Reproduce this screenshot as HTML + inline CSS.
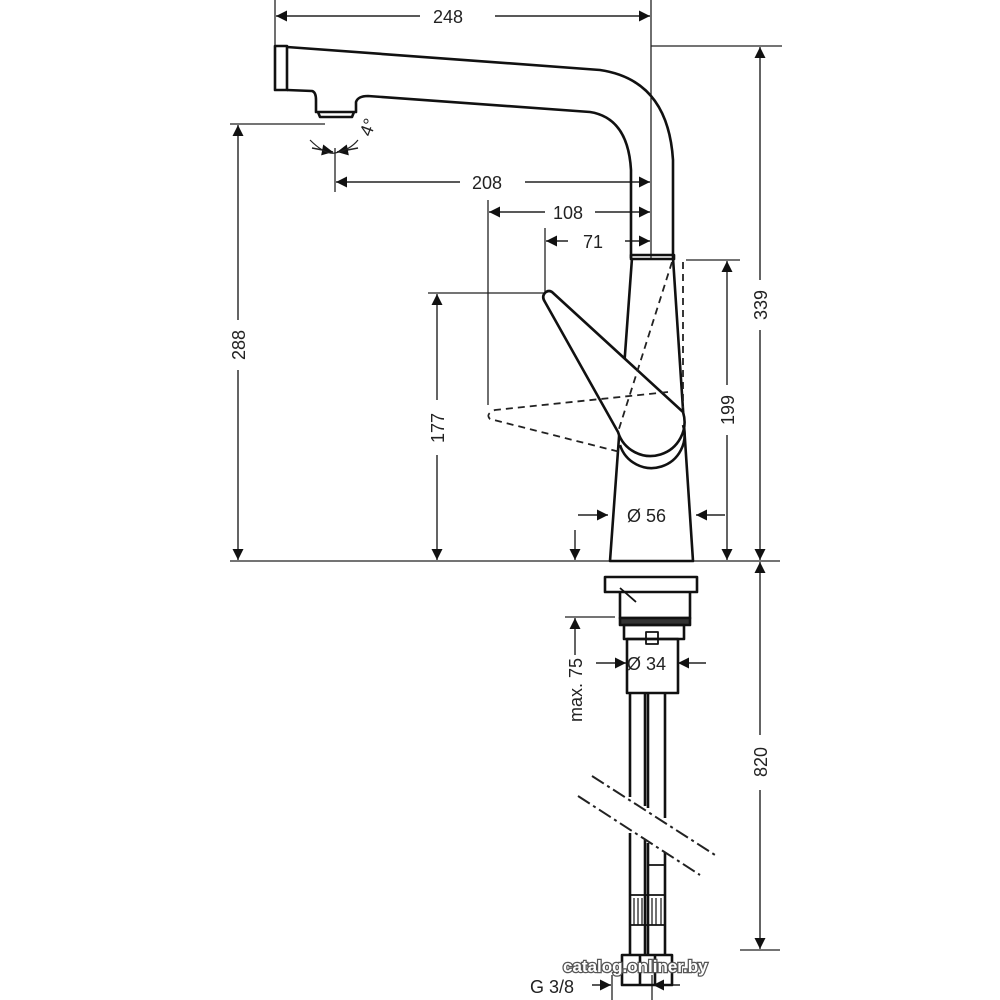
<!DOCTYPE html>
<html><head><meta charset="utf-8"><style>html,body{margin:0;background:#fff}svg{display:block}text{font-family:"Liberation Sans",sans-serif;font-size:18px;fill:#222}</style></head><body>
<svg width="1000" height="1000" viewBox="0 0 1000 1000" xmlns="http://www.w3.org/2000/svg">
<defs>
<marker id="a" viewBox="0 0 10 10" refX="10" refY="5" markerWidth="13" markerHeight="11" markerUnits="userSpaceOnUse" orient="auto-start-reverse"><path d="M0,0L10,5L0,10z" fill="#111"/></marker>
</defs>
<g stroke="#222" stroke-width="1.3" fill="none">
<line x1="275" y1="0" x2="275" y2="45"/>
<line x1="651" y1="0" x2="651" y2="258"/>
<line x1="651" y1="46" x2="782" y2="46"/>
<line x1="230" y1="124" x2="325" y2="124"/>
<line x1="335" y1="148" x2="335" y2="192"/>
<line x1="488" y1="200" x2="488" y2="405"/>
<line x1="545" y1="228" x2="545" y2="292"/>
<line x1="428" y1="293" x2="545" y2="293"/>
<line x1="686" y1="260" x2="740" y2="260"/>
<line x1="230" y1="561" x2="780" y2="561"/>
<line x1="565" y1="617" x2="615" y2="617"/>
<line x1="740" y1="950" x2="780" y2="950"/>
<line x1="612" y1="975" x2="612" y2="1000"/>
<line x1="652" y1="975" x2="652" y2="1000"/>
</g>
<g stroke="#222" stroke-width="1.4" fill="none" marker-start="url(#a)" marker-end="url(#a)">
<line x1="276" y1="16" x2="420" y2="16" marker-end="none"/>
<line x1="495" y1="16" x2="650" y2="16" marker-start="none"/>
<line x1="760" y1="47" x2="760" y2="280" marker-end="none"/>
<line x1="760" y1="330" x2="760" y2="560" marker-start="none"/>
<line x1="238" y1="125" x2="238" y2="320" marker-end="none"/>
<line x1="238" y1="370" x2="238" y2="560" marker-start="none"/>
<line x1="336" y1="182" x2="460" y2="182" marker-end="none"/>
<line x1="525" y1="182" x2="650" y2="182" marker-start="none"/>
<line x1="489" y1="212" x2="545" y2="212" marker-end="none"/>
<line x1="595" y1="212" x2="650" y2="212" marker-start="none"/>
<line x1="546" y1="241" x2="568" y2="241" marker-end="none"/>
<line x1="625" y1="241" x2="650" y2="241" marker-start="none"/>
<line x1="437" y1="294" x2="437" y2="400" marker-end="none"/>
<line x1="437" y1="455" x2="437" y2="560" marker-start="none"/>
<line x1="727" y1="261" x2="727" y2="385" marker-end="none"/>
<line x1="727" y1="435" x2="727" y2="560" marker-start="none"/>
<line x1="760" y1="562" x2="760" y2="735" marker-end="none"/>
<line x1="760" y1="790" x2="760" y2="949" marker-start="none"/>
</g>
<g stroke="#222" stroke-width="1.4" fill="none" marker-end="url(#a)">
<line x1="578" y1="515" x2="608" y2="515"/>
<line x1="725" y1="515" x2="696" y2="515"/>
<line x1="575" y1="530" x2="575" y2="560"/>
<line x1="575" y1="655" x2="575" y2="618"/>
<line x1="596" y1="663" x2="626" y2="663"/>
<line x1="706" y1="663" x2="678" y2="663"/>
<line x1="592" y1="985" x2="611" y2="985"/>
<line x1="680" y1="985" x2="653" y2="985"/>
<line x1="312" y1="148" x2="333" y2="152"/>
<line x1="358" y1="148" x2="337" y2="152"/>
</g>
<path d="M310,140 Q325,155 335,153 Q350,150 358,140" stroke="#222" stroke-width="1.2" fill="none"/>
<g stroke="#111" stroke-width="2.6" fill="none" stroke-linejoin="round">
<rect x="275" y="46" width="12" height="44"/>
<path d="M287,47 L600,70 Q668,80 673,160 L673,258"/>
<path d="M287,90 L312,91 Q316,92 316,100 L316,112 L356,112 L356,102 Q358,96 368,96 L590,112 Q628,118 631,170 L631,258"/>
<path d="M318,112 L320,117 L352,117 L354,112"/>
<rect x="631" y="255" width="43" height="4"/>
<path d="M632,258 L610,561 L693,561 L673,258"/>
<path d="M546,292 Q541,296 545,302 L618,432 A33,33 0 1 0 683,412 L552,292 Q549,290 546,292 Z" fill="#fff"/>
<path d="M620,445 A33,33 0 0 0 683,425"/>
<path d="M605,577 H697 V592 H605 Z M620,592 V618 H690 V592"/>
<line x1="620" y1="588" x2="636" y2="602" stroke-width="1.8"/>
<path d="M620,618 H690 V625 H620 Z" fill="#333"/>
<rect x="624" y="625" width="60" height="14"/>
<rect x="627" y="639" width="51" height="54"/>
<rect x="646" y="632" width="12" height="12" stroke-width="1.8"/>
<path d="M630,693 V797 M645,693 V806 M648,693 V808 M665,693 V818"/>
<path d="M630,833 V955 M645,840 V955 M648,843 V955 M665,852 V955"/>
<path d="M648,865 H665" stroke-width="1.8"/>
<path d="M630,895 H665 M630,925 H665" stroke-width="1.8"/>
<g stroke-width="1.2"><path d="M634,898V925M638,898V925M642,898V925M652,898V925M656,898V925M661,898V925"/></g>
<rect x="622" y="955" width="50" height="30"/>
<path d="M640,955V985M655,955V985"/>
</g>
<g stroke="#222" stroke-width="1.8" fill="none" stroke-dasharray="7,5">
<path d="M672,262 L618,432"/>
<path d="M683,262 V408"/>
<path d="M668,392 L495,410 Q485,414 490,419 L620,452"/>
</g>
<g stroke="#222" stroke-width="2" fill="none" stroke-dasharray="14,4,3,4">
<line x1="592" y1="776" x2="715" y2="855"/>
<line x1="578" y1="796" x2="700" y2="875"/>
</g>
<text x="433" y="23">248</text>
<text x="472" y="189">208</text>
<text x="553" y="219">108</text>
<text x="583" y="248">71</text>
<text x="627" y="522">Ø 56</text>
<text x="627" y="670">Ø 34</text>
<text x="530" y="993">G 3/8</text>
<text x="360" y="138" transform="rotate(-70 365 130)">4°</text>
<text transform="translate(767,305) rotate(-90)" text-anchor="middle">339</text>
<text transform="translate(245,345) rotate(-90)" text-anchor="middle">288</text>
<text transform="translate(444,428) rotate(-90)" text-anchor="middle">177</text>
<text transform="translate(734,410) rotate(-90)" text-anchor="middle">199</text>
<text transform="translate(767,762) rotate(-90)" text-anchor="middle">820</text>
<text transform="translate(582,690) rotate(-90)" text-anchor="middle">max. 75</text>
<text x="563" y="972" style="font-weight:bold;font-size:17px;fill:#fff;stroke:#555;stroke-width:2.5;paint-order:stroke">catalog.onliner.by</text>
</svg>
</body></html>
